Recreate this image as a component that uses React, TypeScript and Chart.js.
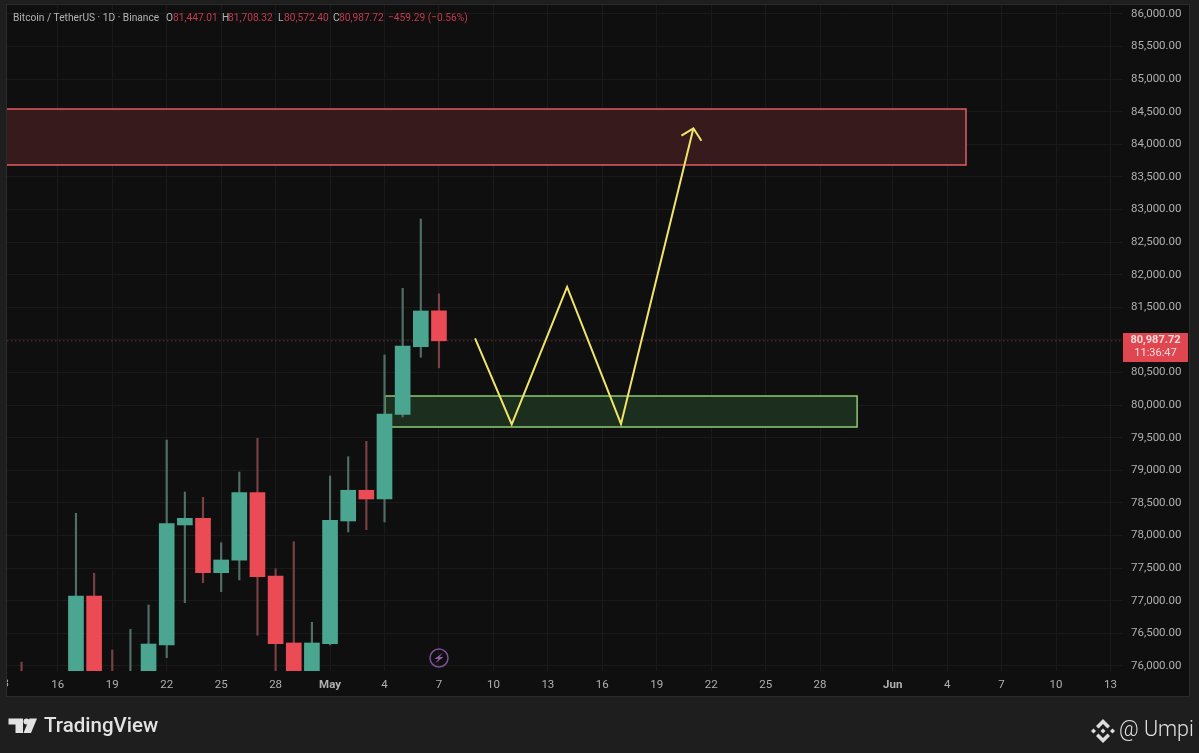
import React, { useEffect, useRef } from "react";
import { Chart, registerables } from "chart.js";

Chart.register(...registerables);

// Day numbers counted from 1 April (May 1 = 31, Jun 1 = 62)
const candleDays = [14, 17, 18, 19, 20, 21, 22, 23, 24, 25, 26, 27, 28, 29, 30, 31, 32, 33, 34, 35, 36, 37];
const opens = [75700, 75700, 77074, 75700, 75500, 75700, 76322, 78163, 78265, 77431, 77621, 78658, 77380, 76353, 75700, 76342, 78224, 78695, 78561, 79860, 80897, 81447.01];
const highs = [76060, 78342, 77422, 76245, 76563, 76936, 79466, 78669, 78587, 77891, 78975, 79492, 77492, 77906, 76670, 78914, 79210, 79446, 80770, 81793, 82856, 81708.32];
const lows = [75300, 75300, 75300, 75300, 75300, 75300, 76128, 76971, 77278, 77140, 77319, 76471, 75700, 75500, 75500, 76322, 78055, 78091, 78209, 79819, 80735, 80572.4];
const closes = [75500, 77074, 75600, 75500, 75800, 76337, 78183, 78265, 77431, 77626, 78658, 77370, 76342, 75700, 76353, 78235, 78695, 78561, 79865, 80908, 81445, 80987.72];

const lastPrice = 80987.72;
const priceTicks = [76000, 76500, 77000, 77500, 78000, 78500, 79000, 79500, 80000, 80500, 81000, 81500, 82000, 82500, 83000, 83500, 84000, 84500, 85000, 85500, 86000];
const dayTicks = [16, 19, 22, 25, 28, 31, 34, 37, 40, 43, 46, 49, 52, 55, 58, 62, 65, 68, 71, 74];
const dayLabels = ["16", "19", "22", "25", "28", "May", "4", "7", "10", "13", "16", "19", "22", "25", "28", "Jun", "4", "7", "10", "13"];

const redZoneDays = [5, 66.04];
const redZonePrices = [83684, 84543];
const greenZoneDays = [34.03, 60.04];
const greenZonePrices = [79666, 80141];

const pathDays = [38.99, 41.01, 44.06, 47.03, 51.02];
const pathPrices = [81026, 79707, 81813, 79712, 84247];
const arrowDays = [50.36, 51.02, 51.46];
const arrowPrices = [84133, 84247, 84057];

const headerParts: [string, string, number][] = [
  ["Bitcoin / TetherUS · 1D · Binance", "#b4b4b8", 13],
  ["O", "#b4b4b8", 166],
  ["81,447.01", "#c23a4e", 173],
  ["H", "#b4b4b8", 222],
  ["81,708.32", "#c23a4e", 228],
  ["L", "#b4b4b8", 278],
  ["80,572.40", "#c23a4e", 284],
  ["C", "#b4b4b8", 333],
  ["80,987.72", "#c23a4e", 339],
  ["−459.29 (−0.56%)", "#c23a4e", 388],
];

const FONT = "Roboto";
const UP = "#4aa690";
const DOWN = "#ea4b55";
const UP_WICK = "#4f6f67";
const DOWN_WICK = "#7a4046";

const box = (days: number[], prices: number[]) => [
  { x: days[0], y: prices[0] },
  { x: days[1], y: prices[0] },
  { x: days[1], y: prices[1] },
  { x: days[0], y: prices[1] },
  { x: days[0], y: prices[0] },
];
const xy = (xs: number[], ys: number[]) => xs.map((x, i) => ({ x, y: ys[i] }));
const isUp = (i: number) => closes[i] >= opens[i];
const bodies = (up: boolean) =>
  candleDays.flatMap((x, i) => (isUp(i) === up ? [{ x, y: [opens[i], closes[i]] }] : []));
const wicks = (up: boolean) =>
  candleDays.flatMap((x, i) => (isUp(i) === up ? [{ x, y: [lows[i], highs[i]] }] : []));

const backdrop = {
  id: "backdrop",
  beforeDraw(chart: any) {
    const c = chart.ctx;
    c.save();
    c.fillStyle = "#1e1e1e";
    c.fillRect(0, 0, 1199, 753);
    c.fillStyle = "#0f0f0f";
    c.fillRect(7, 5, 1182, 691);
    c.strokeStyle = "#2a2a2a";
    c.lineWidth = 1;
    c.strokeRect(6.5, 4.5, 1183, 692);
    c.restore();
  },
};

const decor = {
  id: "decor",
  afterDraw(chart: any) {
    const c = chart.ctx;
    c.save();
    c.textBaseline = "middle";
    c.textAlign = "left";

    // header
    c.font = `11.5px ${FONT}`;
    headerParts.forEach(([t, col, x]) => {
      c.save();
      c.translate(x, 18.5);
      c.scale(0.885, 1);
      c.fillStyle = col;
      c.fillText(t, 0, 0);
      c.restore();
    });

    // clipped day label at the left edge
    c.save();
    c.beginPath();
    c.rect(7, 671, 20, 25);
    c.clip();
    c.textAlign = "center";
    c.fillStyle = "#b0b0b0";
    c.font = `11.5px ${FONT}`;
    c.fillText("13", 2.5, 684);
    c.restore();

    // price tag
    c.fillStyle = "#e0464f";
    c.fillRect(1123, 333, 65, 29);
    c.fillStyle = "#f6dcdc";
    c.textAlign = "center";
    c.font = `bold 11px ${FONT}`;
    c.fillText("80,987.72", 1155.5, 340.5);
    c.font = `11px ${FONT}`;
    c.fillText("11:36:47", 1155.5, 353.5);

    // lightning badge
    c.strokeStyle = "#7d4f95";
    c.lineWidth = 1.5;
    c.beginPath();
    c.arc(439, 658, 9, 0, Math.PI * 2);
    c.stroke();
    c.fillStyle = "#8e5aa8";
    c.beginPath();
    c.moveTo(443, 652.5);
    c.lineTo(434.5, 659);
    c.lineTo(438.5, 659);
    c.lineTo(435, 663.5);
    c.lineTo(443.5, 657);
    c.lineTo(439.5, 657);
    c.closePath();
    c.fill();

    // TradingView logo
    c.fillStyle = "#e2e2e2";
    c.beginPath();
    c.moveTo(8.5, 718.5);
    c.lineTo(23, 718.5);
    c.lineTo(23, 733);
    c.lineTo(15.5, 733);
    c.lineTo(15.5, 724.5);
    c.lineTo(8.5, 724.5);
    c.closePath();
    c.fill();
    c.beginPath();
    c.arc(26.5, 721.5, 3, 0, Math.PI * 2);
    c.fill();
    c.beginPath();
    c.moveTo(29.5, 718.5);
    c.lineTo(37, 718.5);
    c.lineTo(31, 733);
    c.lineTo(23.5, 733);
    c.closePath();
    c.fill();
    c.textAlign = "left";
    c.font = `500 20.5px ${FONT}`;
    c.fillText("TradingView", 44, 726.5);

    // Binance mark
    const diamond = (x: number, y: number, r: number) => {
      c.beginPath();
      c.moveTo(x, y - r);
      c.lineTo(x + r, y);
      c.lineTo(x, y + r);
      c.lineTo(x - r, y);
      c.closePath();
      c.fill();
    };
    const chevron = (dir: number) => {
      c.beginPath();
      c.moveTo(1103, 731 - dir * 12);
      c.lineTo(1110, 731 - dir * 5);
      c.lineTo(1107.5, 731 - dir * 2.5);
      c.lineTo(1103, 731 - dir * 7);
      c.lineTo(1098.5, 731 - dir * 2.5);
      c.lineTo(1096, 731 - dir * 5);
      c.closePath();
      c.fill();
    };
    c.fillStyle = "#dddddd";
    diamond(1103, 731, 2.5);
    diamond(1093.5, 731, 2.5);
    diamond(1112.5, 731, 2.5);
    chevron(1);
    chevron(-1);

    c.fillStyle = "#e0e0e0";
    c.font = `300 21.5px ${FONT}`;
    c.fillText("@ Umpi", 1119, 731);
    c.restore();
  },
};

export default function App() {
  const ref = useRef<HTMLCanvasElement>(null);

  useEffect(() => {
    if (!ref.current) return;
    const tickFont = (ctx: any) => ({
      family: FONT,
      size: 11.5,
      weight: ctx.tick && (ctx.tick.value === 31 || ctx.tick.value === 62) ? "bold" : "normal",
    });
    const chart = new Chart(ref.current, {
      type: "bar",
      data: {
        datasets: [
          {
            type: "line",
            data: box(redZoneDays, redZonePrices),
            borderColor: "#de5f5c",
            borderWidth: 1.5,
            backgroundColor: "#361a1c",
            fill: "shape",
            pointRadius: 0,
            tension: 0,
            order: 10,
          },
          {
            type: "line",
            data: box(greenZoneDays, greenZonePrices),
            borderColor: "#8acb72",
            borderWidth: 1.5,
            backgroundColor: "#1c2e1d",
            fill: "shape",
            pointRadius: 0,
            tension: 0,
            order: 10,
          },
          {
            type: "line",
            data: [
              { x: 13, y: lastPrice },
              { x: 75, y: lastPrice },
            ],
            borderColor: "#8f3c47",
            borderWidth: 1,
            borderDash: [1, 3],
            pointRadius: 0,
            order: 9,
          },
          { data: wicks(true), backgroundColor: UP_WICK, barThickness: 1.5, grouped: false, order: 6 },
          { data: wicks(false), backgroundColor: DOWN_WICK, barThickness: 1.5, grouped: false, order: 6 },
          { data: bodies(true), backgroundColor: UP, barThickness: 15, grouped: false, order: 5 },
          { data: bodies(false), backgroundColor: DOWN, barThickness: 15, grouped: false, order: 5 },
          {
            type: "line",
            data: xy(pathDays, pathPrices),
            borderColor: "#f0e46a",
            borderWidth: 2,
            pointRadius: 0,
            tension: 0,
            order: 1,
          },
          {
            type: "line",
            data: xy(arrowDays, arrowPrices),
            borderColor: "#f0e46a",
            borderWidth: 2,
            pointRadius: 0,
            tension: 0,
            order: 1,
          },
        ] as any,
      },
      options: {
        responsive: false,
        animation: false,
        layout: { autoPadding: false, padding: { left: 7, top: 5, right: 10, bottom: 57 } },
        plugins: { legend: { display: false }, title: { display: false }, tooltip: { enabled: false } },
        scales: {
          x: {
            type: "linear",
            offset: false,
            min: 13.2,
            max: 74.635,
            grid: { color: "#1a1a1a", lineWidth: 1, drawTicks: false, offset: false },
            border: { display: false },
            afterBuildTicks: (axis: any) => {
              axis.ticks = dayTicks.map((value) => ({ value }));
            },
            afterFit: (s: any) => {
              s.height = 25;
              s.paddingLeft = 0;
              s.paddingRight = 0;
            },
            ticks: {
              autoSkip: false,
              maxRotation: 0,
              padding: 7,
              color: "#b0b0b0",
              font: tickFont,
              callback: (v: any) => dayLabels[dayTicks.indexOf(v)] ?? "",
            },
          },
          y: {
            type: "linear",
            position: "right",
            min: 75923,
            max: 86138,
            grid: { color: "#1a1a1a", lineWidth: 1, drawTicks: false },
            border: { display: false },
            afterBuildTicks: (axis: any) => {
              axis.ticks = priceTicks.map((value) => ({ value }));
            },
            afterFit: (s: any) => {
              s.width = 67;
              s.paddingTop = 0;
              s.paddingBottom = 0;
            },
            ticks: {
              padding: 9,
              color: "#b0b0b0",
              font: { family: FONT, size: 11.5 },
              callback: (v: any) =>
                Number(v).toLocaleString("en-US", { minimumFractionDigits: 2, maximumFractionDigits: 2 }),
            },
          },
        },
      } as any,
      plugins: [backdrop, decor],
    });
    return () => chart.destroy();
  }, []);

  return (
    <div style={{ position: "fixed", left: 0, top: 0, width: 1199, height: 753 }}>
      <canvas ref={ref} width={1199} height={753} style={{ display: "block" }} />
    </div>
  );
}
